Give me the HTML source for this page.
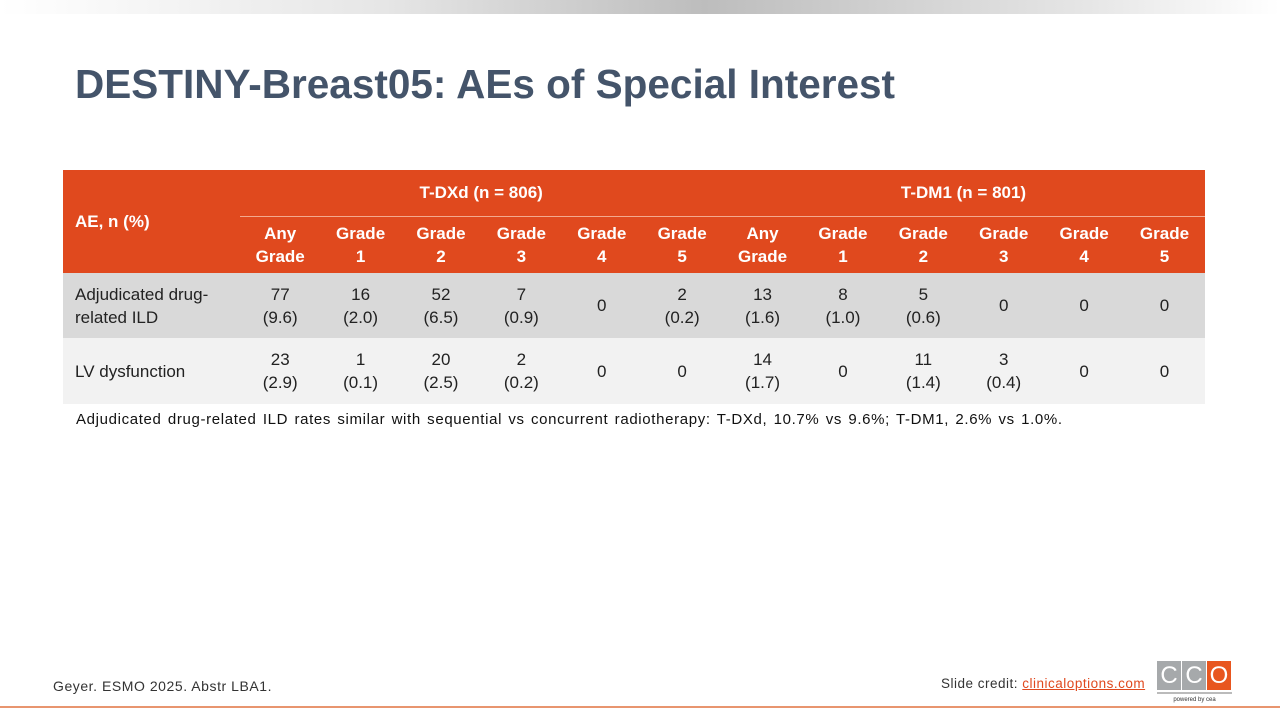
<!DOCTYPE html>
<html><head><style>
body{margin:0;width:1280px;height:720px;position:relative;background:#fff;font-family:"Liberation Sans",sans-serif;overflow:hidden}
.top{position:absolute;left:0;top:0;width:1280px;height:14px;background:linear-gradient(90deg,#fff 0%,#e6e6e6 30%,#bdbdbd 55%,#e6e6e6 85%,#fff 100%)}
h1{position:absolute;left:75px;top:61px;margin:0;font-size:40.5px;font-weight:bold;color:#44546a}
table{position:absolute;left:63px;top:170px;border-collapse:collapse;font-size:17px;color:#222}
td{padding:0;text-align:center;line-height:23px}
.h{background:#e0491e;color:#fff;font-weight:bold}
.r1 td{background:#d9d9d9}
.r2 td{background:#f2f2f2}
.lab{text-align:left;padding-left:12px}
.note{position:absolute;left:76px;top:411px;font-size:15px;color:#111;letter-spacing:0.65px;word-spacing:1.5px}
.foot{position:absolute;left:53px;top:678px;font-size:14px;color:#333;letter-spacing:0.55px}
.credit{position:absolute;left:941px;top:676px;font-size:13.5px;color:#333;letter-spacing:0.5px}
.credit span{color:#e0491e;text-decoration:underline}
.line{position:absolute;left:0;top:706px;width:1280px;height:2px;background:#e8956f}
.logo{position:absolute;left:1157px;top:661px}
.logo div{position:absolute;top:0;width:24px;height:29px;color:#fff;font-size:24px;text-align:center;line-height:29px}
</style></head><body>
<div class="top"></div>
<h1>DESTINY-Breast05: AEs of Special Interest</h1>
<table>
<colgroup><col style="width:177px"><col span="12" style="width:80.4px"></colgroup>
<tr class="h" style="height:46px"><td rowspan="2" class="lab" style="padding-bottom:1px">AE, n (%)</td><td colspan="6" style="border-bottom:1px solid #f3a98e">T-DXd (n = 806)</td><td colspan="6" style="border-bottom:1px solid #f3a98e">T-DM1 (n = 801)</td></tr>
<tr class="h" style="height:57px"><td>Any<br>Grade</td><td>Grade<br>1</td><td>Grade<br>2</td><td>Grade<br>3</td><td>Grade<br>4</td><td>Grade<br>5</td><td>Any<br>Grade</td><td>Grade<br>1</td><td>Grade<br>2</td><td>Grade<br>3</td><td>Grade<br>4</td><td>Grade<br>5</td></tr>
<tr class="r1" style="height:65px"><td class="lab">Adjudicated drug-<br>related ILD</td><td>77<br>(9.6)</td><td>16<br>(2.0)</td><td>52<br>(6.5)</td><td>7<br>(0.9)</td><td>0</td><td>2<br>(0.2)</td><td>13<br>(1.6)</td><td>8<br>(1.0)</td><td>5<br>(0.6)</td><td>0</td><td>0</td><td>0</td></tr>
<tr class="r2" style="height:66px"><td class="lab">LV dysfunction</td><td>23<br>(2.9)</td><td>1<br>(0.1)</td><td>20<br>(2.5)</td><td>2<br>(0.2)</td><td>0</td><td>0</td><td>14<br>(1.7)</td><td>0</td><td>11<br>(1.4)</td><td>3<br>(0.4)</td><td>0</td><td>0</td></tr>
</table>
<div class="note">Adjudicated drug-related ILD rates similar with sequential vs concurrent radiotherapy: T-DXd, 10.7% vs 9.6%; T-DM1, 2.6% vs 1.0%.</div>
<div class="foot">Geyer. ESMO 2025. Abstr LBA1.</div>
<div class="credit">Slide credit: <span>clinicaloptions.com</span></div>
<div class="logo">
<div style="left:0;background:#a6a9ab">C</div><div style="left:25px;background:#a6a9ab">C</div><div style="left:50px;background:#e8561f">O</div>
<div style="left:0;top:31px;width:75px;height:2px;background:#bbb"></div>
<div style="left:0;top:34px;width:75px;height:10px;font-size:6px;line-height:10px;color:#333">powered by cea</div>
</div>
<div class="line"></div>
</body></html>
